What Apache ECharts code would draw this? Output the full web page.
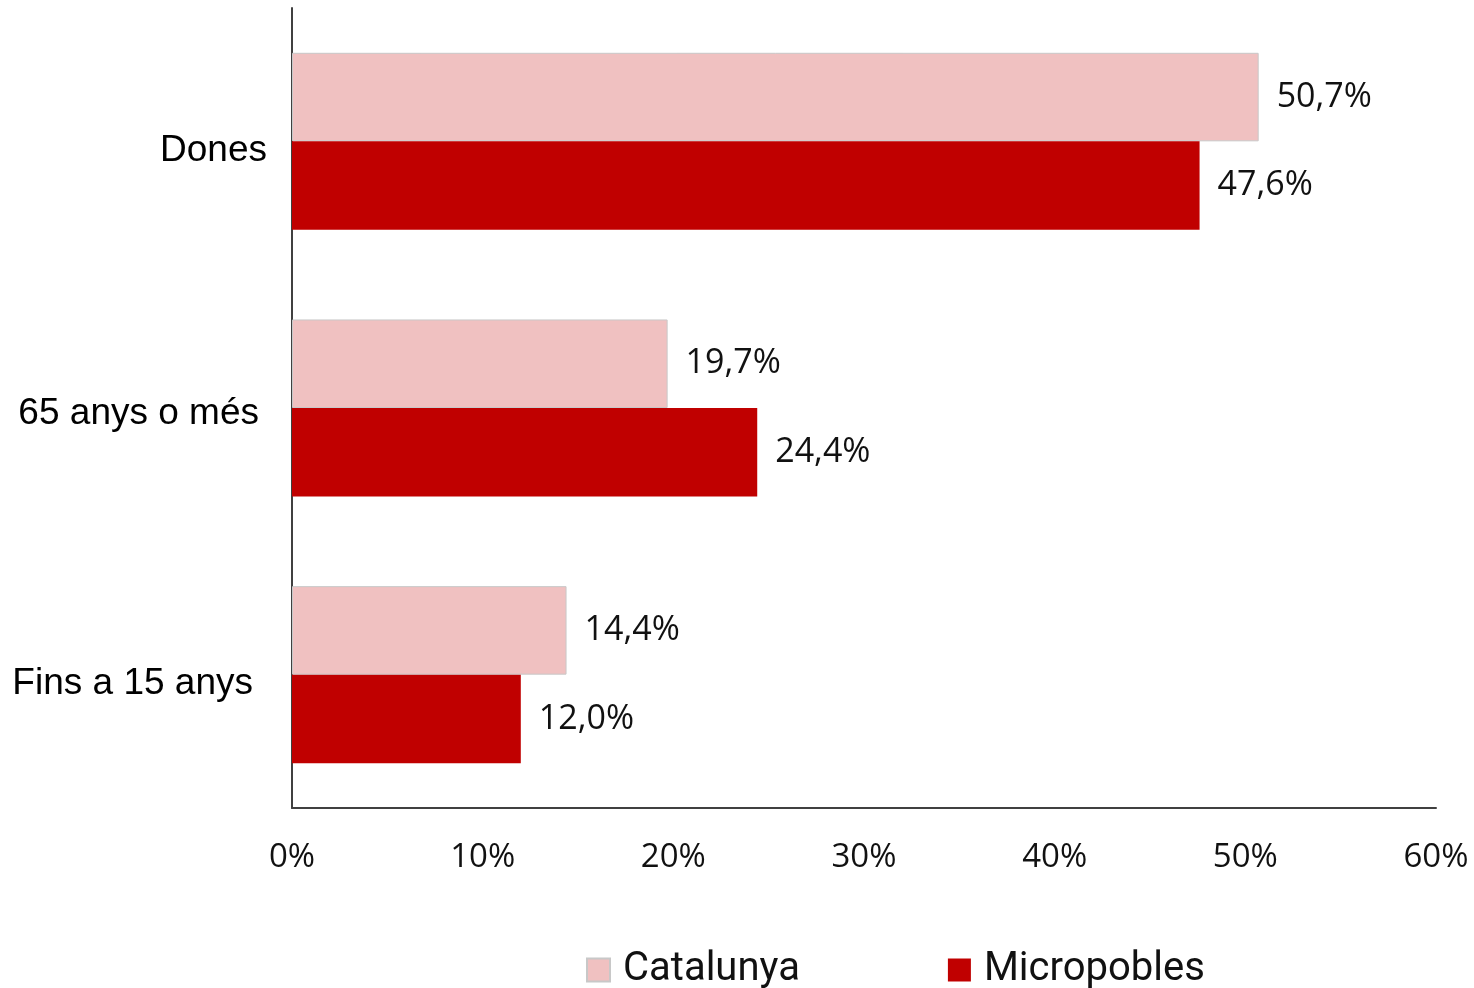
<!DOCTYPE html>
<html><head><meta charset="utf-8">
<script src="https://cdn.jsdelivr.net/npm/echarts@6/dist/echarts.min.js"></script>
<style>html,body{margin:0;padding:0;background:#fff}#c{width:1474px;height:988px}</style>
</head><body><div id="c"></div>
<script>
const categories = ['Dones', '65 anys o més', 'Fins a 15 anys'];
const catalunya = [50.7, 19.7, 14.4];
const micropobles = [47.6, 24.4, 12.0];
const xTicks = [0, 10, 20, 30, 40, 50, 60];

const fmt = p => p.value.toFixed(1).replace('.', ',') + '%';
const richKey = ['d', 'm', 'f'];
const chart = echarts.init(document.getElementById('c'));
const catStyle = { fontFamily: 'Liberation Sans', fontSize: 37, color: '#000', lineHeight: 42 };
chart.setOption({
  animation: false,
  grid: { left: 292, right: 38, top: 8, bottom: 180, containLabel: false },
  legend: {
    data: ['Catalunya', 'Micropobles'],
    bottom: -7, left: 581,
    icon: 'rect', itemWidth: 23, itemHeight: 23, itemGap: 148,
    textStyle: { fontFamily: 'Roboto', fontSize: 40, color: '#111', padding: [0, 0, 0, 8] }
  },
  xAxis: {
    type: 'value', min: 0, max: 60, interval: 10,
    axisLine: { show: true, lineStyle: { color: '#404040', width: 2 } },
    axisTick: { show: false },
    splitLine: { show: false },
    axisLabel: { fontFamily: 'Open Sans', fontSize: 33, color: '#111', margin: 33,
      formatter: v => xTicks.includes(v) ? v + '%' : '' }
  },
  yAxis: {
    type: 'category', data: categories, inverse: true,
    axisLine: { show: true, lineStyle: { color: '#404040', width: 2 } },
    axisTick: { show: false },
    axisLabel: { margin: 25,
      formatter: (v, i) => '{' + richKey[i] + '|' + v + '}',
      rich: {
        d: Object.assign({ padding: [18, 0, 0, 0] }, catStyle),
        m: Object.assign({ padding: [12, 8, 0, 0] }, catStyle),
        f: Object.assign({ padding: [18, 14, 0, 0] }, catStyle)
      } }
  },
  series: [
    { name: 'Catalunya', type: 'bar', data: catalunya, barGap: '0%', barCategoryGap: '33.6%',
      itemStyle: { color: '#F0C1C1', borderColor: '#C8C8C8', borderWidth: 1 },
      label: { show: true, position: 'right', distance: 18, formatter: fmt,
        fontFamily: 'Open Sans', fontSize: 34, color: '#111', padding: [6, 0, 0, 0] } },
    { name: 'Micropobles', type: 'bar', data: micropobles, barGap: '0%', barCategoryGap: '33.6%',
      itemStyle: { color: '#C00000' },
      label: { show: true, position: 'right', distance: 18, formatter: fmt,
        fontFamily: 'Open Sans', fontSize: 34, color: '#111', padding: [6, 0, 0, 0] } }
  ]
});
</script></body></html>
